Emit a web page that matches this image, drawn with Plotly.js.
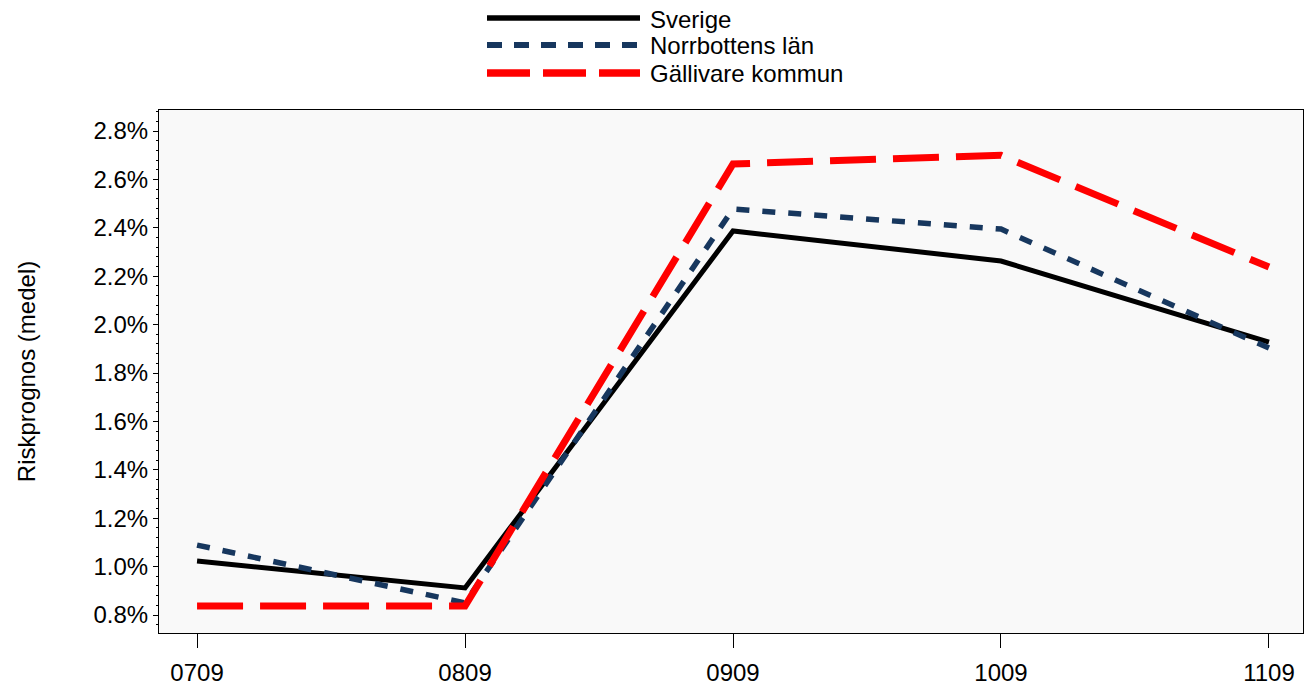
<!DOCTYPE html>
<html>
<head>
<meta charset="utf-8">
<script src="https://cdn.plot.ly/plotly-3.0.1.min.js"></script>
<style>html,body{margin:0;padding:0;background:#fff;}#chart{width:1304px;height:687px;}</style>
</head>
<body>
<div id="chart"></div>
<script>
const periods = ["0709", "0809", "0909", "1009", "1109"];
const seriesNames = ["Sverige", "Norrbottens län", "Gällivare kommun"];
const sverige = [1.023, 0.912, 2.387, 2.263, 1.928];
const norrbotten = [1.089, 0.850, 2.478, 2.395, 1.903];
const gallivare = [0.837, 0.837, 2.664, 2.700, 2.238];
const yTicks = [0.8, 1.0, 1.2, 1.4, 1.6, 1.8, 2.0, 2.2, 2.4, 2.6, 2.8];

const styles = [
  {color: "#000000", width: 5, dash: "solid"},
  {color: "#17375E", width: 5.5, dash: "13px,13px"},
  {color: "#FF0000", width: 7, dash: "46px,17px"}
];
const values = [sverige, norrbotten, gallivare];

const traces = values.map((v, i) => ({
  type: "scatter", mode: "lines", x: periods, y: v, name: seriesNames[i],
  line: {color: styles[i].color, width: styles[i].width, dash: styles[i].dash},
  showlegend: false, hoverinfo: "skip"
}));

// custom legend (sample lines + text) in paper coordinates
const legendRowsPx = [18, 45, 73];
const H = 687, W = 1304, mL = 159, mR = 1, mT = 110, mB = 54;
const pw = W - mL - mR, ph = H - mT - mB;
const toPx = (x) => (x - mL) / pw;
const toPy = (y) => (H - mB - y) / ph;
const legendDash = ["solid", "15px,12px", "43px,13px"];
const shapes = [];
const annotations = [];
seriesNames.forEach((n, i) => {
  shapes.push({type: "line", xref: "paper", yref: "paper",
    x0: toPx(487), x1: toPx(640), y0: toPy(legendRowsPx[i]), y1: toPy(legendRowsPx[i]),
    line: {color: styles[i].color, width: styles[i].width + 0.5, dash: legendDash[i]}});
  annotations.push({xref: "paper", yref: "paper", x: toPx(648), y: toPy(legendRowsPx[i] + 1),
    xanchor: "left", yanchor: "middle", text: n, showarrow: false,
    font: {family: "Liberation Sans, Arial, sans-serif", size: 24, color: "#000"}});
});

const layout = {
  width: W, height: H,
  margin: {l: mL, r: mR, t: mT, b: mB, pad: 0},
  paper_bgcolor: "#ffffff", plot_bgcolor: "#f9f9f9",
  font: {family: "Liberation Sans, Arial, sans-serif", size: 24, color: "#000"},
  showlegend: false,
  xaxis: {
    type: "category", range: [-0.142, 4.127],
    showgrid: false, zeroline: false,
    showline: true, linecolor: "#000", linewidth: 1, mirror: true,
    ticks: "outside", ticklen: 14, tickcolor: "#000", tickwidth: 1,
    ticklabelstandoff: 4,
    tickfont: {size: 24}
  },
  yaxis: {
    range: [0.7256, 2.887],
    tickvals: yTicks, ticktext: yTicks.map(v => v.toFixed(1) + "%"),
    showgrid: false, zeroline: false,
    showline: true, linecolor: "#000", linewidth: 1, mirror: true,
    ticks: "outside", ticklen: 5, tickcolor: "#000", tickwidth: 1,
    minor: {dtick: 0.04, tick0: 0.8, ticks: "outside", ticklen: 2.5, tickcolor: "#000", tickwidth: 1},
    tickfont: {size: 24},
    title: {text: "Riskprognos (medel)", font: {size: 24}, standoff: 51}
  },
  shapes: shapes,
  annotations: annotations
};

Plotly.newPlot("chart", traces, layout, {staticPlot: true, displayModeBar: false});
</script>
</body>
</html>
